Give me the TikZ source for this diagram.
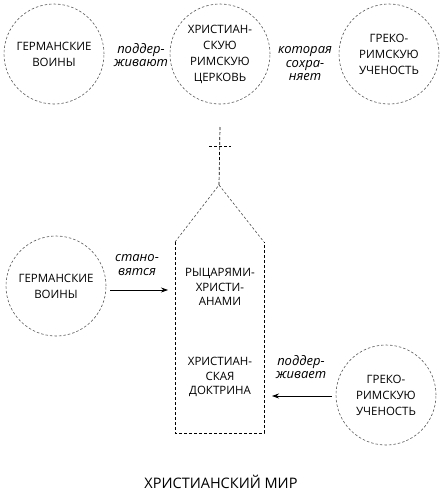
\documentclass[tikz,border=0pt]{standalone}
\usepackage{fontspec}
\setmainfont{Open Sans}
\usetikzlibrary{arrows.meta}
\begin{document}
\begin{tikzpicture}[x=1pt,y=-1pt,
  circ/.style={circle,draw=black!65,dash pattern=on 2.5pt off 2pt,line width=0.6pt,minimum size=100pt,inner sep=0pt,align=center,font=\fontsize{11.5}{16}\selectfont},
  lbl/.style={align=center,font=\fontsize{13}{13.5}\selectfont\itshape},
  body/.style={align=center,font=\fontsize{11.5}{14.8}\selectfont},
  arr/.style={-{Stealth[length=7pt,width=5pt]},line width=0.7pt},
  wall/.style={draw=black,dash pattern=on 3pt off 2pt,line width=0.7pt},
  roof/.style={draw=black!70,dash pattern=on 2.5pt off 2pt,line width=0.6pt}]
\useasboundingbox[fill=white] (0,0) rectangle (442,491);
% top row
\node[circ] (gw1) at (54,54) {ГЕРМАНСКИЕ\\ВОИНЫ};
\node[circ] (church) at (220,54) {ХРИСТИАН-\\СКУЮ\\РИМСКУЮ\\ЦЕРКОВЬ};
\node[circ] (gr1) at (389,54) {ГРЕКО-\\РИМСКУЮ\\УЧЕНОСТЬ};
\node[lbl] (l1) at (141,55) {поддер-\\живают};
\node[lbl] (l2) at (305,64) {которая\\сохра-\\няет};
% cross
\coordinate (ctop) at (220,127);
\coordinate (apex) at (219,185);
\coordinate (cbl) at (209,146);
\coordinate (cbr) at (231,146);
\draw[wall] (ctop) -- (apex);
\draw[wall] (cbl) -- (cbr);
% church building
\coordinate (sl) at (175,242);
\coordinate (sr) at (264,242);
\coordinate (bl) at (175,433);
\coordinate (br) at (264,433);
\draw[roof] (sl) -- (apex) -- (sr);
\draw[wall] (sl) -- (bl) -- (br) -- (sr);
\node[body] (knights) at (220,287) {РЫЦАРЯМИ-\\ХРИСТИ-\\АНАМИ};
\node[body] (doctrine) at (220,377) {ХРИСТИАН-\\СКАЯ\\ДОКТРИНА};
% bottom row
\node[circ] (gw2) at (56,286) {ГЕРМАНСКИЕ\\ВОИНЫ};
\node[circ] (gr2) at (386,395) {ГРЕКО-\\РИМСКУЮ\\УЧЕНОСТЬ};
\coordinate (a1) at (168,290);
\coordinate (a2) at (272,396);
\draw[arr] (gw2.east |- a1) ++(4,0) coordinate (a1s) -- (a1);
\draw[arr] (gr2.west |- a2) ++(-4,0) coordinate (a2s) -- (a2);
\node[lbl] (l3) at (137,265) {стано-\\вятся};
\node[lbl] (l4) at (301,367) {поддер-\\живает};
\node[font=\fontsize{14.5}{16}\selectfont] (title) at (221,482) {ХРИСТИАНСКИЙ МИР};
\end{tikzpicture}
\end{document}
